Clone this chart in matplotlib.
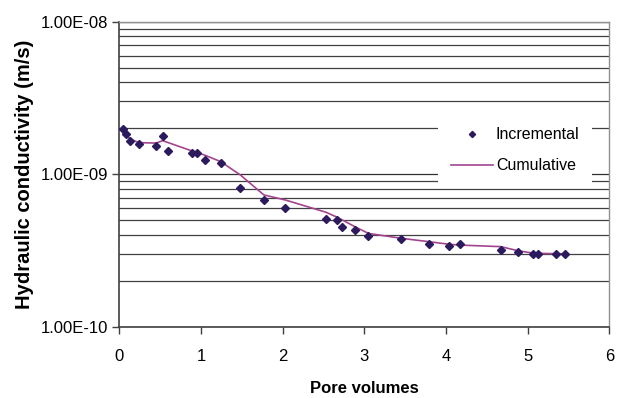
import matplotlib
matplotlib.use("Agg")
import matplotlib.pyplot as plt
from matplotlib.ticker import LogLocator, FixedLocator, NullFormatter

plt.rcParams['font.family'] = ['Liberation Sans', 'DejaVu Sans']

pore_volumes = [0.05, 0.08, 0.13, 0.24, 0.45, 0.53, 0.60, 0.89, 0.95, 1.05, 1.24,
                1.48, 1.77, 2.03, 2.53, 2.66, 2.73, 2.89, 3.05, 3.45, 3.79, 4.04,
                4.17, 4.67, 4.88, 5.06, 5.12, 5.34, 5.45]
incremental = [1.97e-9, 1.83e-9, 1.66e-9, 1.58e-9, 1.53e-9, 1.77e-9, 1.43e-9, 1.37e-9,
               1.37e-9, 1.24e-9, 1.18e-9, 8.09e-10, 6.78e-10, 6.03e-10, 5.06e-10,
               4.99e-10, 4.51e-10, 4.31e-10, 3.92e-10, 3.74e-10, 3.48e-10, 3.40e-10,
               3.47e-10, 3.17e-10, 3.08e-10, 3.01e-10, 3.01e-10, 3.01e-10, 3.01e-10]
cumulative = [1.97e-9, 1.84e-9, 1.70e-9, 1.61e-9, 1.60e-9, 1.66e-9, 1.61e-9, 1.42e-9,
              1.39e-9, 1.33e-9, 1.21e-9, 9.9e-10, 7.31e-10, 6.78e-10, 5.63e-10,
              5.24e-10, 5.01e-10, 4.51e-10, 4.09e-10, 3.80e-10, 3.61e-10, 3.47e-10,
              3.43e-10, 3.35e-10, 3.15e-10, 3.04e-10, 3.03e-10, 3.01e-10, 3.01e-10]
y_ticks = [1e-10, 1e-9, 1e-8]
y_tick_labels = ["1.00E-10", "1.00E-09", "1.00E-08"]
x_ticks = [0, 1, 2, 3, 4, 5, 6]

fig = plt.figure(figsize=(6.17, 3.98), dpi=100)
ax = fig.add_axes([0.1934, 0.1791, 0.7944, 0.7664])

ax.set_yscale('log')
ax.set_ylim(1e-10, 1e-8)
ax.set_xlim(0, 6)

ax.plot(pore_volumes, cumulative, color='#a3448f', lw=1.2, label='Cumulative', zorder=3)
ax.plot(pore_volumes, incremental, linestyle='none', marker='D', markersize=4.5,
        color='#2b1a5e', label='Incremental', zorder=4)

ax.yaxis.set_major_locator(FixedLocator(y_ticks))
ax.set_yticklabels(y_tick_labels)
ax.yaxis.set_minor_locator(LogLocator(base=10, subs=range(2, 10)))
ax.yaxis.set_minor_formatter(NullFormatter())
ax.set_xticks(x_ticks)
ax.set_xticklabels([str(v) for v in x_ticks])

ax.grid(True, which='major', axis='y', color='#303030', lw=0.9)
ax.grid(True, which='minor', axis='y', color='#404040', lw=0.9)
ax.set_axisbelow(True)

ax.tick_params(axis='y', which='major', direction='out', length=5, width=1,
               color='#404040', labelsize=12, pad=3)
ax.tick_params(axis='y', which='minor', length=0)
ax.tick_params(axis='x', direction='out', length=5, width=1, color='#404040',
               labelsize=12, pad=11)

for s in ['left', 'bottom']:
    ax.spines[s].set_color('#404040')
    ax.spines[s].set_linewidth(1.2)
for s in ['top', 'right']:
    ax.spines[s].set_color('#909090')
    ax.spines[s].set_linewidth(1.0)

handles, labels = ax.get_legend_handles_labels()
leg = ax.legend(handles[::-1], labels[::-1], loc='center',
                bbox_to_anchor=(0.808, 0.578), frameon=True, fancybox=False,
                framealpha=1, edgecolor='none', facecolor='white',
                fontsize=11.5, handlelength=2.6, handletextpad=0.2,
                borderpad=0.8, labelspacing=1.0, markerscale=0.7)

fig.text(0.0405, 0.5623, 'Hydraulic conductivity (m/s)', rotation=90,
         ha='center', va='center', fontsize=14.5, fontweight='bold')
fig.text(0.5906, 0.004, 'Pore volumes', ha='center', va='bottom',
         fontsize=12, fontweight='bold')

fig.savefig('out.png', dpi=100)
